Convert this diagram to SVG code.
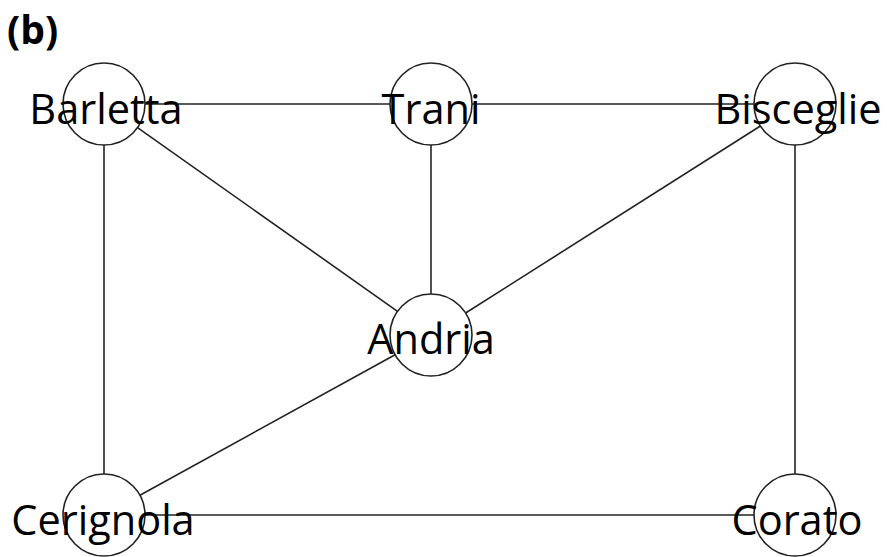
<svg xmlns="http://www.w3.org/2000/svg" width="887" height="557" viewBox="0 0 887 557">
<style>
.edge{stroke:#222;stroke-width:1.6;fill:none}
.node circle{fill:none;stroke:#222;stroke-width:1.6}
.node text{font-family:"Open Sans","Noto Sans",sans-serif;font-size:41.5px;fill:#000;text-anchor:middle}
.title{font-family:"Open Sans","Noto Sans",sans-serif;font-size:39px;font-weight:bold;fill:#000}
</style>
<rect width="887" height="557" fill="#fff"/>
<text class="title" x="7" y="44">(b)</text>
<g id="edges">
<line class="edge" x1="145" y1="104" x2="390" y2="104"/>
<line class="edge" x1="472" y1="104" x2="754" y2="104"/>
<line class="edge" x1="137.5" y1="127.7" x2="397.5" y2="311.3"/>
<line class="edge" x1="431" y1="145" x2="431" y2="294"/>
<line class="edge" x1="760.4" y1="126" x2="465.6" y2="313"/>
<line class="edge" x1="104" y1="145" x2="104" y2="474"/>
<line class="edge" x1="795" y1="145" x2="795" y2="474"/>
<line class="edge" x1="395.1" y1="354.8" x2="139.9" y2="495.2"/>
<line class="edge" x1="145" y1="515" x2="754" y2="515"/>
</g>
<g id="Barletta" class="node"><circle cx="104" cy="104" r="41"/><text x="106" y="124">Barletta</text></g>
<g id="Trani" class="node"><circle cx="431" cy="104" r="41"/><text x="431" y="124">Trani</text></g>
<g id="Bisceglie" class="node"><circle cx="795" cy="104" r="41"/><text x="798" y="124">Bisceglie</text></g>
<g id="Andria" class="node"><circle cx="431" cy="335" r="41"/><text x="431" y="354">Andria</text></g>
<g id="Cerignola" class="node"><circle cx="104" cy="515" r="41"/><text x="103" y="535">Cerignola</text></g>
<g id="Corato" class="node"><circle cx="795" cy="515" r="41"/><text x="797" y="535">Corato</text></g>
</svg>
